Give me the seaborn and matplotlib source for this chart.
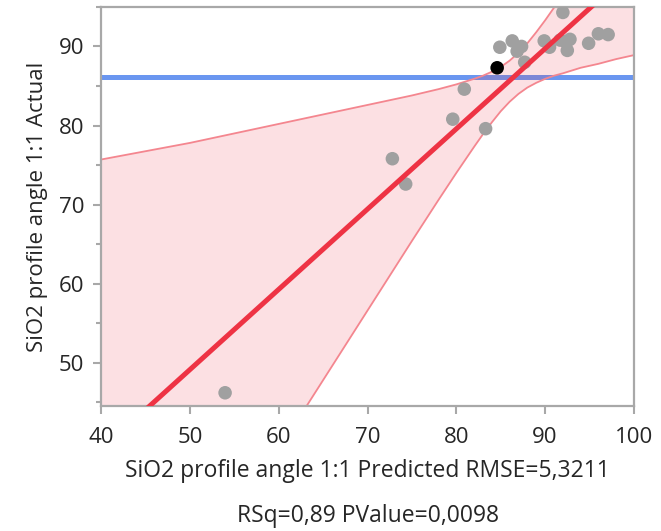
import numpy as np
import pandas as pd
import seaborn as sns
import matplotlib
matplotlib.use('Agg')
from matplotlib import pyplot as plt
from matplotlib.ticker import MultipleLocator

# Actual by predicted values
predicted = [53.96, 72.8, 74.3, 79.6, 80.9, 83.3, 84.9, 86.3, 86.85, 87.35, 87.7,
             89.9, 90.5, 91.7, 92.0, 92.5, 92.8, 92.4, 94.9, 96.0, 97.1]
actual = [46.2, 75.8, 72.6, 80.8, 84.6, 79.6, 89.9, 90.7, 89.4, 90.0, 88.0,
          90.7, 89.9, 90.8, 94.3, 89.5, 90.9, 90.5, 90.4, 91.6, 91.5]
# highlighted row
sel_predicted = [84.6]
sel_actual = [87.3]

# confidence curves around the fit
band_x = [40, 50, 60, 65, 70, 75, 78, 80, 82, 83, 84, 85, 86, 87, 88, 89, 90,
          91, 92, 94, 96, 98, 100]
band_hi = [75.7, 77.8, 80.2, 81.4, 82.6, 83.8, 84.6, 85.2, 85.9, 86.3, 86.8, 87.4,
           88.2, 89.2, 90.4, 91.8, 93.3, 94.9, 96.6, 99.9, 103.4, 106.8, 110.3]
band_lo = [3.7, 21.4, 39.0, 47.8, 56.6, 65.4, 70.6, 74.0, 77.3, 78.9, 80.4, 81.8,
           83.0, 84.0, 84.8, 85.4, 85.9, 86.3, 86.6, 87.3, 87.8, 88.4, 88.9]

mean_actual = 86.1

df = pd.DataFrame({'Predicted': predicted, 'Actual': actual})
sel = pd.DataFrame({'Predicted': sel_predicted, 'Actual': sel_actual})
fit_df = pd.concat([df, sel])

sns.set_style('white')
plt.rcParams['font.family'] = ['Open Sans', 'DejaVu Sans']

red = '#EE3344'
grey_frame = '#A8A8A8'

fig = plt.figure(figsize=(6.61, 5.31), dpi=100)
ax = fig.add_axes([0.153, 0.235, 0.806, 0.752])
ax.set_xlim(40, 100)
ax.set_ylim(44.5, 95)

ax.axhline(mean_actual, color='#6A96F0', lw=3.6, zorder=1)
ax.fill_between(band_x, band_lo, band_hi, color=red, alpha=0.15, lw=0, zorder=2)
ax.plot(band_x, band_hi, color='#F4868F', lw=1.3, zorder=2)
ax.plot(band_x, band_lo, color='#F4868F', lw=1.3, zorder=2)

sns.scatterplot(data=df, x='Predicted', y='Actual', color='#A0A0A0', s=95,
                edgecolor='none', ax=ax, zorder=3)
sns.scatterplot(data=sel, x='Predicted', y='Actual', color='black', s=95,
                edgecolor='none', ax=ax, zorder=3)
sns.regplot(data=fit_df, x='Predicted', y='Actual', ci=None, scatter=False,
            truncate=False, color=red, line_kws={'lw': 3.6, 'zorder': 4}, ax=ax)
ax.set_xlim(40, 100)
ax.set_ylim(44.5, 95)

ax.xaxis.set_major_locator(MultipleLocator(10))
ax.yaxis.set_major_locator(MultipleLocator(10))
ax.yaxis.set_minor_locator(MultipleLocator(5))
ax.tick_params(axis='both', which='major', length=6, width=1.5, color=grey_frame,
               labelsize=16, pad=6, bottom=True, left=True)
ax.tick_params(axis='x', which='major', pad=9)
ax.tick_params(axis='y', which='minor', length=3.5, width=1.5, color=grey_frame, left=True)
for sp in ax.spines.values():
    sp.set_color(grey_frame)
    sp.set_linewidth(1.6)

ax.set_xlabel('SiO2 profile angle 1:1 Predicted RMSE=5,3211\nRSq=0,89 PValue=0,0098',
              fontsize=16.5, linespacing=2.15, labelpad=8)
ax.set_ylabel('SiO2 profile angle 1:1 Actual', fontsize=16, labelpad=8)

plt.savefig('out.png', dpi=100)
plt.close(fig)
